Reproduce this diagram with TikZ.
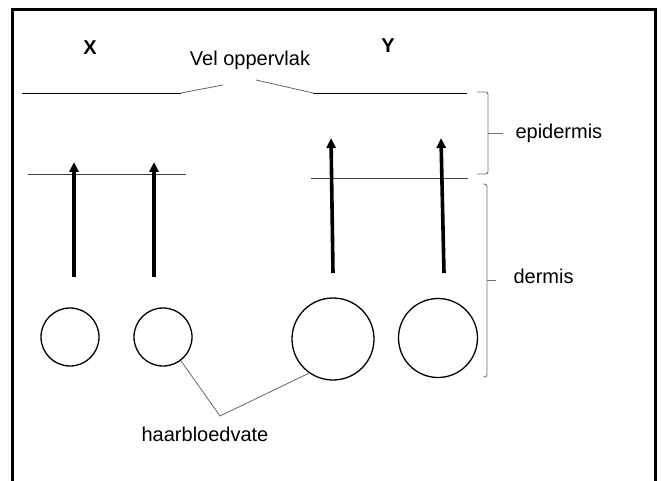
\documentclass[tikz,border=0pt]{standalone}
\usepackage{fontspec}
\setmainfont{Liberation Sans}
\usepackage{tikz}
\usetikzlibrary{arrows.meta,positioning}

\begin{document}
\begin{tikzpicture}[x=1pt,y=-1pt,font=\fontsize{20}{23}\selectfont,
  vessel/.style={circle,draw,line width=1.3pt,inner sep=0pt},
  hair/.style={line width=3.6pt,-{Triangle[length=10pt,width=9pt]}},
  layer/.style={line width=0.9pt},
  leader/.style={draw=black!60,line width=0.8pt},
  bracket/.style={draw=black!55,line width=0.9pt,rounded corners=2.5pt},
  head label/.style={font=\fontsize{20}{23}\selectfont\bfseries}]

  \useasboundingbox (0,0) rectangle (661,481);

  % frame, open at the bottom
  \draw[line width=3pt] (12,481) -- (12,10) -- (655,10) -- (655,481);

  \node[head label] (X) at (90,48) {X};
  \node[head label] (Y) at (388,46) {Y};
  \node (vel) at (250,60) {Vel oppervlak};

  % blood vessels
  \node[vessel,minimum size=58pt] (cx1) at (70,337) {};
  \node[vessel,minimum size=58pt] (cx2) at (163,337) {};
  \node[vessel,minimum size=82pt] (cy1) at (333,339) {};
  \node[vessel,minimum size=79pt] (cy2) at (438,338) {};

  \node (hb) at (205,434) {haarbloedvate};
  \coordinate (hbtop) at (220,416);

  % skin surfaces
  \coordinate (sxl) at (22,93);   \coordinate (sxr) at (181,93);
  \coordinate (syl) at (313,93);  \coordinate (syr) at (467,93);
  \coordinate (dxl) at (28,174);  \coordinate (dxr) at (186,174);
  \coordinate (dyl) at (311,178); \coordinate (dyr) at (468,178);

  \draw[layer] (sxl) -- (sxr);
  \draw[layer] (syl) -- (syr);
  \draw[layer,black!75] (dxl) -- (dxr);
  \draw[layer,black!75] (dyl) -- (dyr);

  \draw[leader] (sxr) -- (223,85);
  \draw[leader] (256,80) -- (syl);

  % hairs
  \coordinate (hx1) at (74,277);  \coordinate (tx1) at (74,162);
  \coordinate (hx2) at (154,277); \coordinate (tx2) at (154,162);
  \coordinate (hy1) at (333,273); \coordinate (ty1) at (331,138);
  \coordinate (hy2) at (444,273); \coordinate (ty2) at (441,138);

  \draw[hair] (hx1) -- (tx1);
  \draw[hair] (hx2) -- (tx2);
  \draw[hair] (hy1) -- (ty1);
  \draw[hair] (hy2) -- (ty2);

  \draw[leader] (cx2.-53) -- (hbtop) -- (cy1.235);

  % layers
  \coordinate (epitip) at (503,133);
  \coordinate (dertip) at (496,280);
  \draw[bracket] (477,92) -- (488,92) -- (488,174) -- (477,174);
  \draw[bracket,sharp corners] (488,133) -- (epitip);
  \draw[bracket] (483,184) -- (487,184) -- (487,377) -- (483,377);
  \draw[bracket,sharp corners] (487,280) -- (dertip);

  \node[anchor=west] (epi) [right=9pt of epitip] {epidermis};
  \node[anchor=west,yshift=4pt] (der) [right=14pt of dertip] {dermis};
\end{tikzpicture}
\end{document}
